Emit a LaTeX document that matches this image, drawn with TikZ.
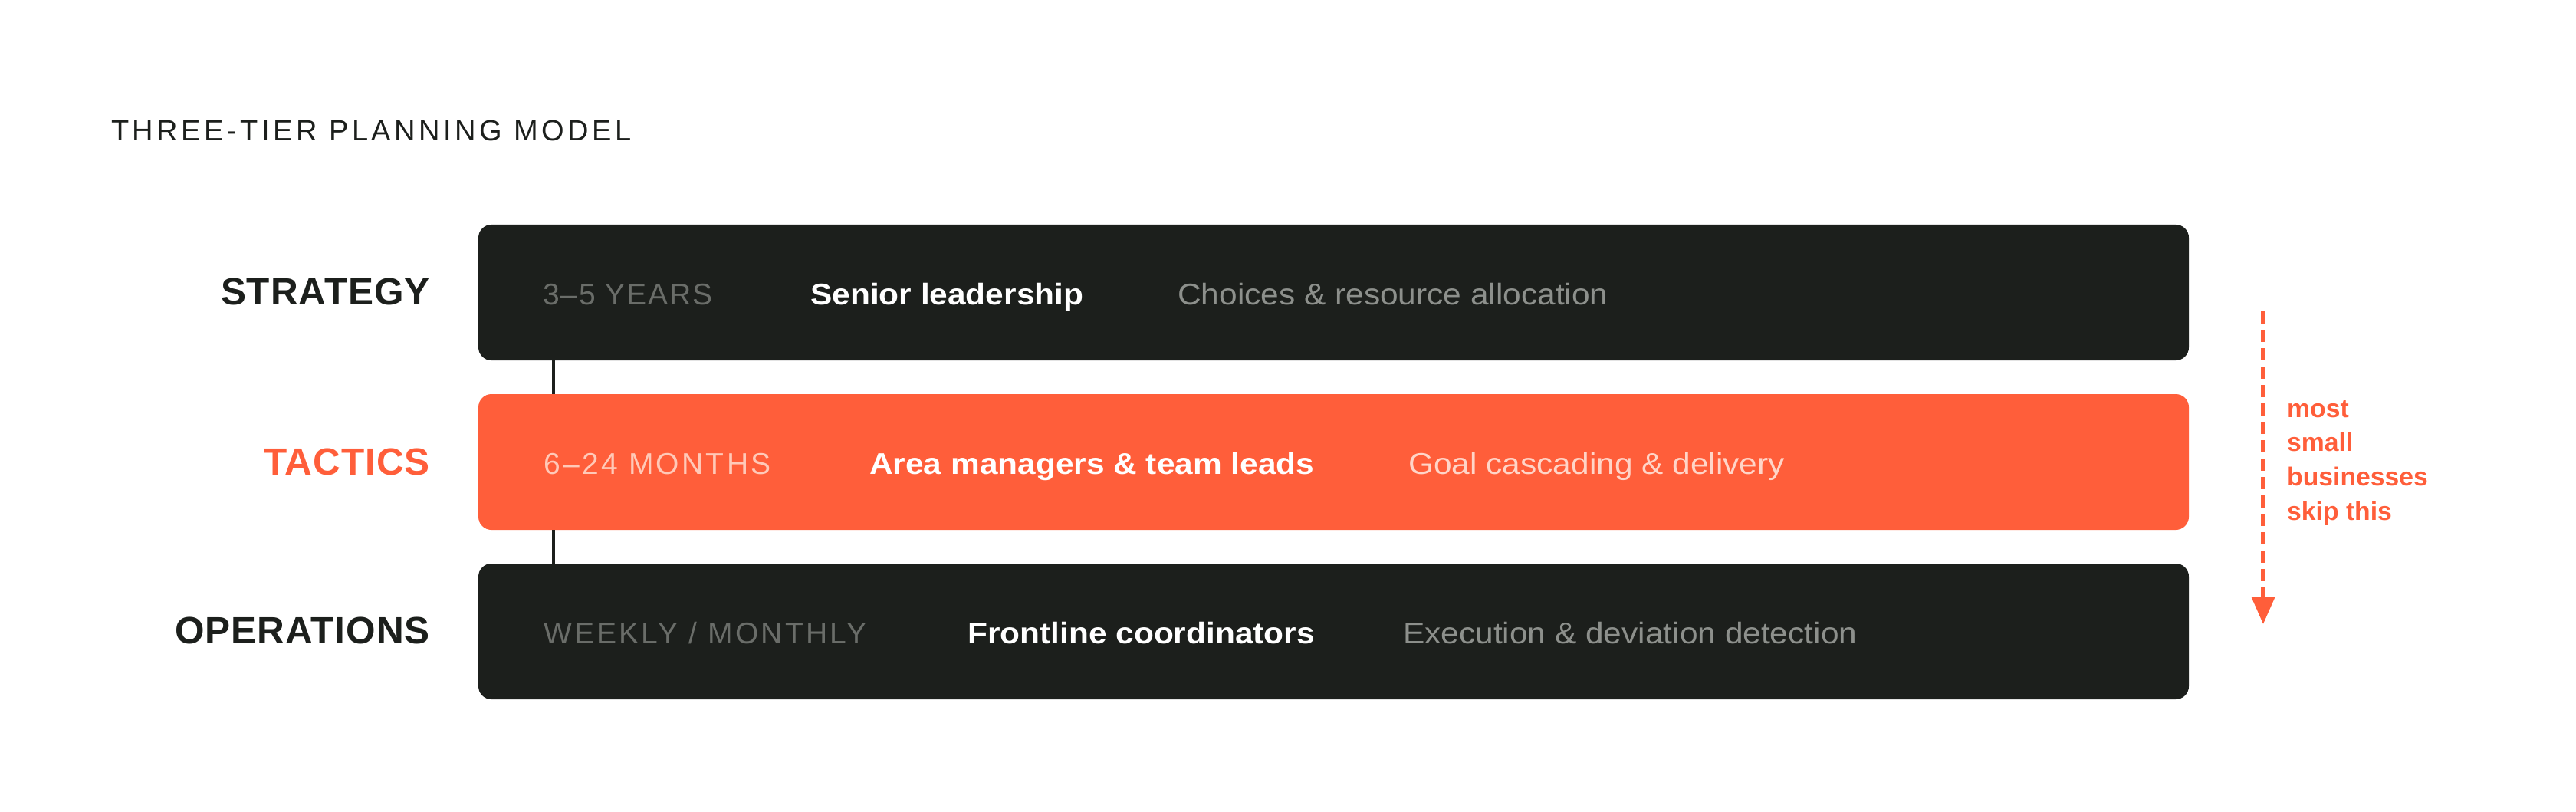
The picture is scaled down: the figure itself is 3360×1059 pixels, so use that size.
\documentclass[tikz,border=0pt]{standalone}
\usepackage{fontspec}
\usetikzlibrary{arrows.meta,calc}
\setmainfont{Liberation Sans}
\newfontfamily\bodyf[FakeStretch=1.088]{Liberation Sans}
\newfontfamily\capsA[LetterSpace=5]{Liberation Sans}
\newfontfamily\capsB[LetterSpace=8.5]{Liberation Sans}
\newfontfamily\capsC[LetterSpace=8.2]{Liberation Sans}
\newfontfamily\titlef[LetterSpace=12]{Liberation Sans}
\newfontfamily\tierf[LetterSpace=2]{Liberation Sans}
\newfontfamily\notef{Liberation Sans}
\definecolor{darkbg}{HTML}{1C1F1C}
\definecolor{accent}{HTML}{FF5E3A}
\definecolor{grayA}{HTML}{6A6D69}
\definecolor{grayB}{HTML}{8D908C}
\definecolor{pinkA}{HTML}{FFC9B8}
\definecolor{pinkB}{HTML}{FFD5C8}
\tikzset{
  tierbox/.style={rectangle, rounded corners=17pt, inner sep=0pt, draw=none,
    minimum width=2231pt, minimum height=177pt},
  txt/.style={anchor=base west, inner sep=0pt},
  tierlabel/.style={anchor=base east, inner sep=0pt, font=\tierf\fontsize{49.5}{58}\selectfont\bfseries},
  timelbl/.style={txt},
  rolelbl/.style={txt, text=white, font=\bodyf\fontsize{39}{47}\selectfont\bfseries},
  desclbl/.style={txt, font=\bodyf\fontsize{39}{47}\selectfont},
  conn/.style={draw=darkbg, line width=4.5pt},
  skiparrow/.style={draw=accent, line width=5.5pt, dash pattern=on 16pt off 8pt,
    -{Triangle[width=30pt,length=36pt]}},
}
\begin{document}
\begin{tikzpicture}[x=1pt,y=-1pt]
\useasboundingbox (0,0) rectangle (3360,1059);
% title
\node[txt, text=darkbg, font=\titlef\fontsize{38}{46}\selectfont] (title) at (145,184) {THREE-TIER PLANNING MODEL};
% boxes
\node[tierbox, fill=darkbg] (sbox) at (1739.5,381.5) {};
\node[tierbox, fill=accent] (tbox) at (1739.5,602.5) {};
\node[tierbox, fill=darkbg] (obox) at (1739.5,823.5) {};
% connectors
\draw[conn] ($(sbox.south west)+(98,0)$) -- ($(tbox.north west)+(98,0)$);
\draw[conn] ($(tbox.south west)+(98,0)$) -- ($(obox.north west)+(98,0)$);
% tier labels
\node[tierlabel, text=darkbg] (slab) at (561,397) {STRATEGY};
\node[tierlabel, text=accent] (tlab) at (561,619) {TACTICS};
\node[tierlabel, text=darkbg] (olab) at (561,839) {OPERATIONS};
% strategy row
\node[timelbl, text=grayA, font=\capsA\fontsize{39}{47}\selectfont] (st) at (708,397) {3–5 YEARS};
\node[rolelbl] (sr) at (1057,397) {Senior leadership};
\node[desclbl, text=grayB] (sd) at (1536,397) {Choices \& resource allocation};
% tactics row
\node[timelbl, text=pinkA, font=\capsB\fontsize{39}{47}\selectfont] (tt) at (709,618) {6–24 MONTHS};
\node[rolelbl] (tr) at (1134,618) {Area managers \& team leads};
\node[desclbl, text=pinkB] (td) at (1837,618) {Goal cascading \& delivery};
% operations row
\node[timelbl, text=grayA, font=\capsC\fontsize{39}{47}\selectfont] (ot) at (709,839) {WEEKLY / MONTHLY};
\node[rolelbl] (or) at (1262,839) {Frontline coordinators};
\node[desclbl, text=grayB] (od) at (1830,839) {Execution \& deviation detection};
% skip arrow
\coordinate (arrA) at (2952,406);
\coordinate (arrB) at (2952,814);
\draw[skiparrow] (arrA) -- (arrB);
\node[txt, text=accent, font=\notef\fontsize{33.7}{44.7}\selectfont\bfseries] (note) at (2983,544)
  {\vtop{\baselineskip=44.7pt\lineskiplimit=-100pt\hbox{most}\hbox{small}\hbox{businesses}\hbox{skip this}}};
\end{tikzpicture}
\end{document}
